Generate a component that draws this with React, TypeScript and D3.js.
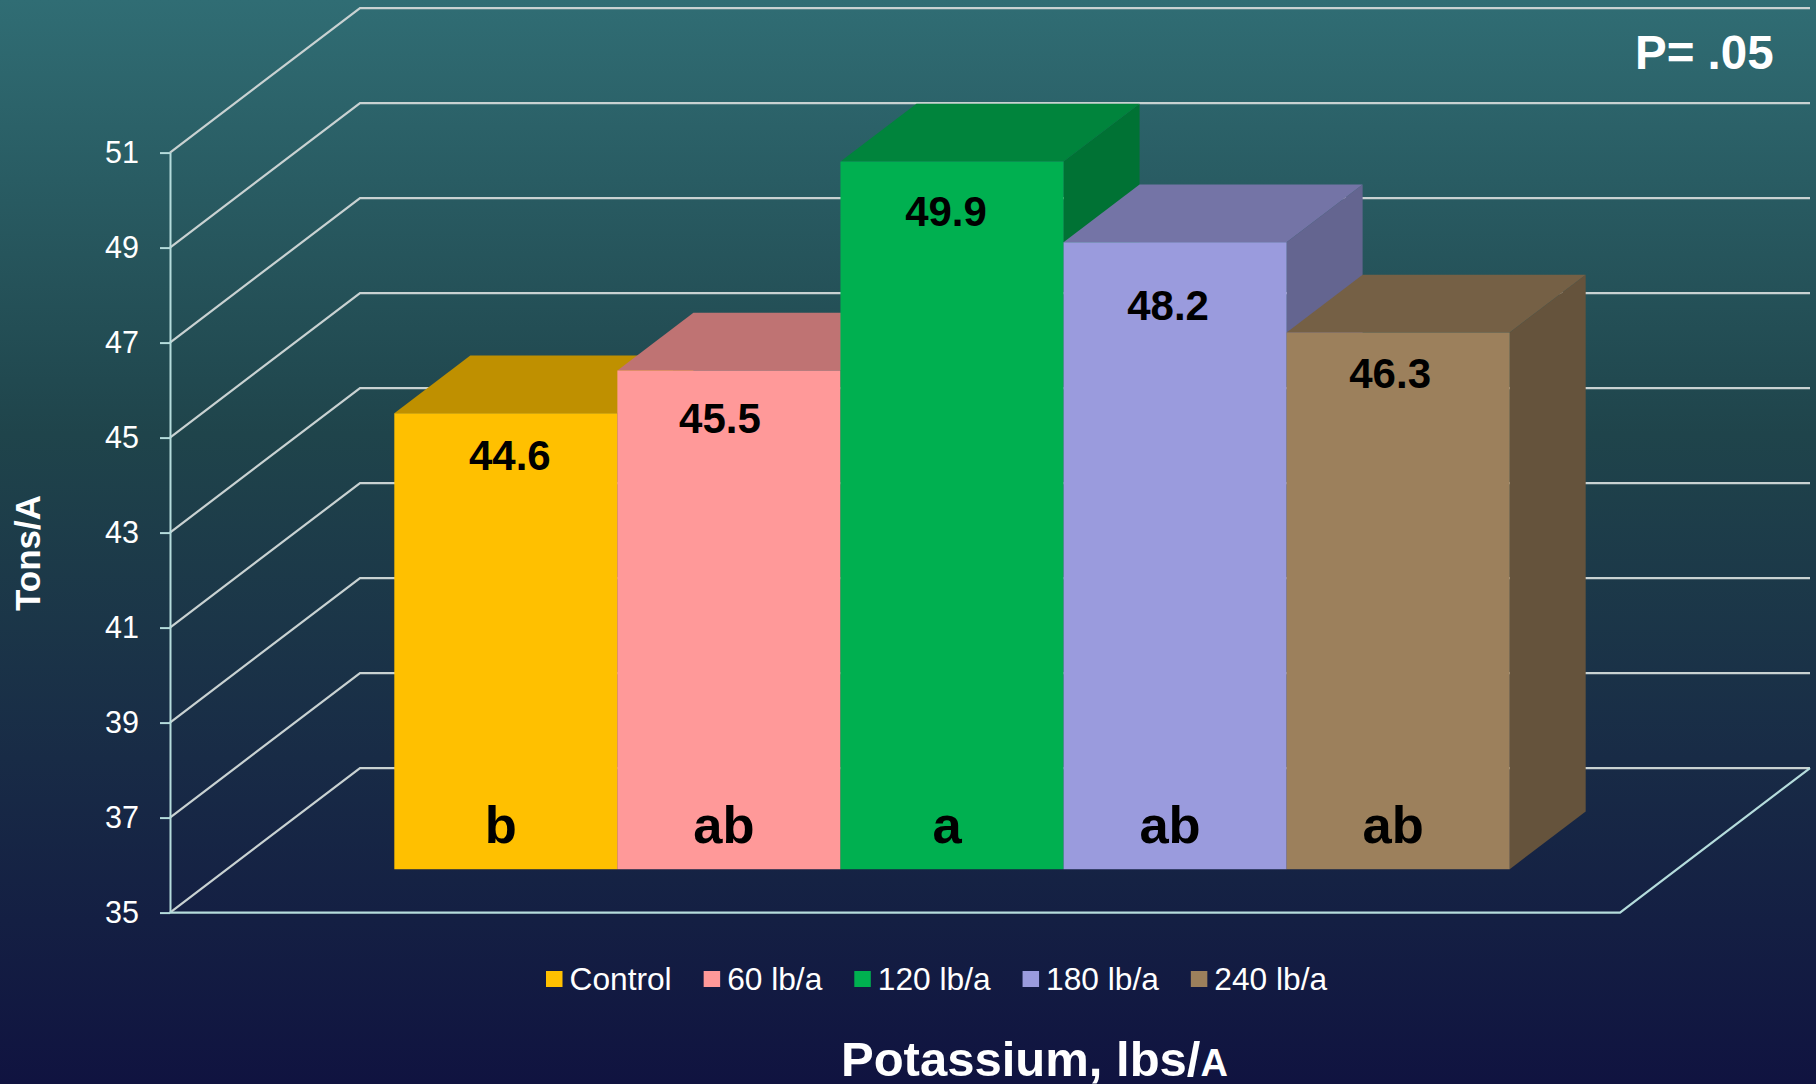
import { useEffect, useRef } from "react";
import * as d3 from "d3";

const categories = ["Control", "60 lb/a", "120 lb/a", "180 lb/a", "240 lb/a"];
const yields = [44.6, 45.5, 49.9, 48.2, 46.3];
const letters = ["b", "ab", "a", "ab", "ab"];
const colors = ["#FFC000", "#FF9999", "#00B050", "#9A9BDD", "#9C805C"];
const yTicks = [35, 37, 39, 41, 43, 45, 47, 49, 51];

// hand placed text boxes in the original slide: [dx, dy from bar top]
const valueNudge = [
  [4, 57],
  [-9, 62],
  [-6, 64],
  [-7, 78],
  [-8, 55],
];

const FONT = "'Liberation Sans', Arial, sans-serif";

export default function App() {
  const svgRef = useRef<SVGSVGElement>(null);

  useEffect(() => {
    const width = 1816;
    const height = 1084;

    // front plane of the box
    const x0 = 170;
    const x1 = 1620;
    const yBottom = 912.6;
    const yTop = 152.6;
    // total depth of the floor, bars sit between 30% and 70% of it
    const depthX = 190;
    const depthY = 144.5;
    const barFront = 0.3;
    const barBack = 0.7;

    const svg = d3.select(svgRef.current);
    svg.selectAll("*").remove();
    svg
      .attr("width", width)
      .attr("height", height)
      .style("position", "absolute")
      .style("left", 0)
      .style("top", 0)
      .style("font-family", FONT);

    const grad = svg
      .append("defs")
      .append("linearGradient")
      .attr("id", "bg")
      .attr("x1", 0)
      .attr("y1", 0)
      .attr("x2", 0)
      .attr("y2", 1);
    [
      [0, "#306d74"],
      [0.4, "#1f444b"],
      [0.7, "#182b46"],
      [1, "#101340"],
    ].forEach(([o, c]) => grad.append("stop").attr("offset", o).attr("stop-color", c));

    svg.append("rect").attr("width", width).attr("height", height).attr("fill", "url(#bg)");

    const yScale = d3.scaleLinear().domain([35, 51]).range([yBottom, yTop]);
    const xScale = d3
      .scaleBand()
      .domain(categories)
      .range([x0, x1])
      .paddingInner(0)
      .paddingOuter(0.75);

    // gridlines run along the side wall and then the back wall
    const line = d3.line();
    svg
      .append("g")
      .selectAll("path")
      .data(yTicks)
      .join("path")
      .attr("fill", "none")
      .attr("stroke", "#c9d2d2")
      .attr("stroke-width", 2.2)
      .attr("d", (d) =>
        line([
          [x0, yScale(d)],
          [x0 + depthX, yScale(d) - depthY],
          [x1 + depthX, yScale(d) - depthY],
        ])
      );

    // floor front and right edge
    svg
      .append("path")
      .attr("fill", "none")
      .attr("stroke", "#b5dcdc")
      .attr("stroke-width", 2.2)
      .attr(
        "d",
        line([
          [x0, yBottom],
          [x1, yBottom],
          [x1 + depthX, yBottom - depthY],
        ])
      );

    const axis = svg
      .append("g")
      .attr("transform", `translate(${x0},0)`)
      .call(
        d3
          .axisLeft(yScale)
          .tickValues(yTicks)
          .tickSize(10)
          .tickPadding(21)
          .tickSizeOuter(0)
      );
    axis.select(".domain").attr("stroke", "#b5dcdc").attr("stroke-width", 2);
    axis.selectAll(".tick line").attr("stroke", "#b5dcdc").attr("stroke-width", 2);
    axis
      .selectAll(".tick text")
      .attr("fill", "#fff")
      .style("font-size", "30.5px")
      .style("font-family", FONT);

    // bars, left to right so each one covers the side of the previous
    const shade = (c: string, k: number) => {
      const rgb = d3.rgb(c);
      return d3.rgb(rgb.r * k, rgb.g * k, rgb.b * k).formatHex();
    };
    const bw = xScale.bandwidth();
    const fx = depthX * barFront;
    const fy = depthY * barFront;
    const dx = depthX * (barBack - barFront);
    const dy = depthY * (barBack - barFront);

    const poly = (pts: [number, number][]) => line(pts) + "Z";
    const bars = svg
      .append("g")
      .selectAll("g")
      .data(categories)
      .join("g");

    bars.each(function (cat, i) {
      const g = d3.select(this);
      const left = xScale(cat)! + fx;
      const right = left + bw;
      const top = yScale(yields[i]) - fy;
      const bottom = yBottom - fy;
      g.append("path")
        .attr("fill", shade(colors[i], 0.65))
        .attr(
          "d",
          poly([
            [right, top],
            [right + dx, top - dy],
            [right + dx, bottom - dy],
            [right, bottom],
          ])
        );
      g.append("path")
        .attr("fill", shade(colors[i], 0.75))
        .attr(
          "d",
          poly([
            [left, top],
            [left + dx, top - dy],
            [right + dx, top - dy],
            [right, top],
          ])
        );
      g.append("rect")
        .attr("x", left)
        .attr("y", top)
        .attr("width", bw)
        .attr("height", bottom - top)
        .attr("fill", colors[i]);
    });

    // value and significance labels go on top of all the bars
    categories.forEach((cat, i) => {
      const cx = xScale(cat)! + fx + bw / 2;
      svg
        .append("text")
        .attr("x", cx + valueNudge[i][0])
        .attr("y", yScale(yields[i]) - fy + valueNudge[i][1])
        .attr("text-anchor", "middle")
        .attr("font-size", 42)
        .attr("font-weight", "bold")
        .attr("fill", "#000")
        .text(yields[i].toFixed(1));
      svg
        .append("text")
        .attr("x", cx - 5)
        .attr("y", 843)
        .attr("text-anchor", "middle")
        .attr("font-size", 52.5)
        .attr("font-weight", "bold")
        .attr("fill", "#000")
        .text(letters[i]);
    });

    // legend, laid out by measured text width
    const legend = svg.append("g");
    let lx = 546;
    categories.forEach((cat, i) => {
      legend
        .append("rect")
        .attr("x", lx)
        .attr("y", 971)
        .attr("width", 16.5)
        .attr("height", 16)
        .attr("fill", colors[i]);
      const t = legend
        .append("text")
        .attr("x", lx + 23.5)
        .attr("y", 990)
        .attr("font-size", 31.7)
        .attr("fill", "#fff")
        .text(cat);
      lx += 23.5 + t.node()!.getComputedTextLength() + 32;
    });

    svg
      .append("text")
      .attr("transform", "translate(40,553) rotate(-90)")
      .attr("text-anchor", "middle")
      .attr("font-size", 35)
      .attr("font-weight", "bold")
      .attr("fill", "#fff")
      .text("Tons/A");

    const xTitle = svg
      .append("text")
      .attr("x", 841)
      .attr("y", 1076)
      .attr("font-size", 49)
      .attr("font-weight", "bold")
      .attr("fill", "#fff")
      .text("Potassium, lbs/");
    xTitle.append("tspan").attr("font-size", 38).text("A");

    svg
      .append("text")
      .attr("x", 1635)
      .attr("y", 69)
      .attr("font-size", 47.5)
      .attr("font-weight", "bold")
      .attr("fill", "#fff")
      .text("P= .05");
  }, []);

  return <svg ref={svgRef}></svg>;
}
